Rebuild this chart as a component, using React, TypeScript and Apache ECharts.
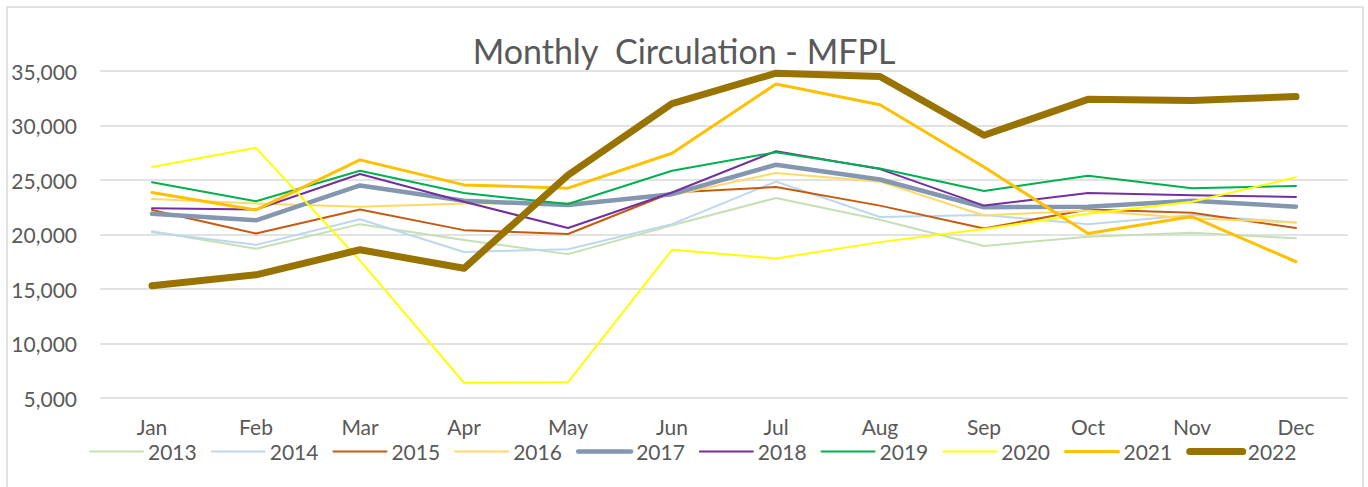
import React, { useEffect, useRef } from "react";
import * as echarts from "echarts";

const months = ["Jan", "Feb", "Mar", "Apr", "May", "Jun", "Jul", "Aug", "Sep", "Oct", "Nov", "Dec"];
const yTicks = [5000, 10000, 15000, 20000, 25000, 30000, 35000];

const s2013 = [20300, 18700, 20950, 19500, 18200, 20850, 23350, 21350, 18950, 19800, 20150, 19650];
const s2014 = [20200, 19050, 21400, 18400, 18650, 20950, 24850, 21600, 21800, 20950, 21800, 21100];
const s2015 = [22250, 20100, 22300, 20400, 20050, 23850, 24350, 22650, 20550, 22300, 22000, 20600];
const s2016 = [23250, 22850, 22550, 22850, 22900, 23600, 25650, 24850, 21750, 22200, 21500, 21100];
const s2017 = [21900, 21300, 24500, 23100, 22700, 23700, 26400, 25050, 22500, 22550, 23100, 22550];
const s2018 = [22400, 22300, 25550, 23000, 20600, 23850, 27650, 26000, 22650, 23800, 23600, 23450];
const s2019 = [24800, 23050, 25850, 23800, 22800, 25850, 27550, 26050, 24000, 25400, 24250, 24450];
const s2020 = [26200, 27950, 17600, 6400, 6450, 18600, 17800, 19300, 20500, 21900, 23000, 25250];
const s2021 = [23850, 22250, 26850, 24550, 24250, 27450, 33800, 31900, 26200, 20100, 21650, 17500];
const s2022 = [15300, 16300, 18600, 16900, 25450, 32000, 34800, 34500, 29100, 32400, 32300, 32650];

const seriesNames = ["2013", "2014", "2015", "2016", "2017", "2018", "2019", "2020", "2021", "2022"];
const seriesData = [s2013, s2014, s2015, s2016, s2017, s2018, s2019, s2020, s2021, s2022];
const seriesColors = ["#C5E0B4", "#BDD7EE", "#C55A11", "#FFD966", "#8497B0", "#7030A0", "#00B050", "#FFFF00", "#FFC000", "#997300"];
const seriesWidths = [2, 2, 2, 2, 4.5, 2, 2, 2, 3, 7];

export default function App() {
  const ref = useRef<HTMLDivElement>(null);
  useEffect(() => {
    if (!ref.current) return;
    const chart = echarts.init(ref.current, undefined, { renderer: "svg" });
    const font = "Lato, 'Open Sans', sans-serif";
    chart.setOption({
      animation: false,
      backgroundColor: "#ffffff",
      textStyle: { fontFamily: font },
      title: {
        text: "Monthly  Circulation - MFPL",
        left: "center",
        top: 28,
        textStyle: { fontFamily: font, fontSize: 34, fontWeight: "normal", color: "#595959" },
      },
      graphic: [
        {
          type: "rect",
          shape: { x: 7, y: 7, width: 1356, height: 495 },
          style: { fill: "none", stroke: "#D9D9D9", lineWidth: 1.5 },
          silent: true,
        },
      ],
      grid: { left: 100, right: 20, top: 71, bottom: 89, containLabel: false },
      legend: {
        data: seriesNames.map((name, i) => ({
          name,
          lineStyle: { color: seriesColors[i], width: seriesWidths[i], cap: "round" },
        })),
        left: 89,
        top: 441,
        itemWidth: 53,
        itemHeight: 12,
        itemGap: 14,
        padding: 0,
        itemStyle: { opacity: 0 },
        textStyle: { fontFamily: font, fontSize: 21, lineHeight: 20, color: "#595959" },
      },
      xAxis: {
        type: "category",
        data: months,
        boundaryGap: true,
        axisLine: { show: false },
        axisTick: { show: false },
        axisLabel: { fontFamily: font, fontSize: 21, lineHeight: 20, color: "#595959", margin: 18 },
      },
      yAxis: {
        type: "value",
        min: yTicks[0],
        max: yTicks[yTicks.length - 1],
        interval: 5000,
        axisLine: { show: false },
        axisTick: { show: false },
        splitLine: { lineStyle: { color: "#D9D9D9", width: 1.5 } },
        axisLabel: {
          fontFamily: font,
          fontSize: 21,
          color: "#595959",
          margin: 23,
          formatter: (v: number) => v.toLocaleString("en-US"),
        },
      },
      series: seriesNames.map((name, i) => ({
        name,
        type: "line",
        data: seriesData[i],
        symbol: "none",
        showSymbol: false,
        color: seriesColors[i],
        lineStyle: { color: seriesColors[i], width: seriesWidths[i], cap: "round", join: "round" },
        z: 2 + i,
      })),
    });
    return () => chart.dispose();
  }, []);
  return (
    <div
      ref={ref}
      style={{ position: "fixed", left: 0, top: 0, width: 1368, height: 487 }}
    />
  );
}
